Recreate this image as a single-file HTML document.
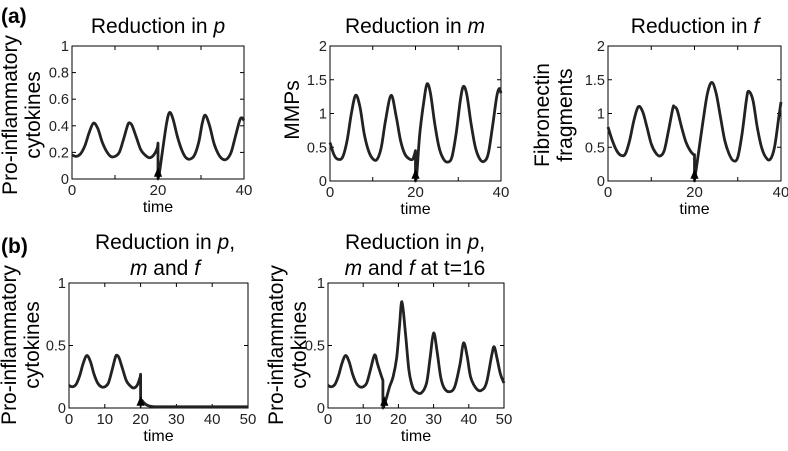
<!DOCTYPE html>
<html><head><meta charset="utf-8"><style>
body{margin:0;background:#fff;width:788px;height:446px;overflow:hidden}
svg{font-family:"Liberation Sans",Arial,sans-serif}
</style></head><body>
<svg id="fig" width="788" height="446" viewBox="0 0 788 446">
<text x="1" y="23" font-size="21" font-weight="bold">(a)</text>
<text x="1" y="253" font-size="21" font-weight="bold">(b)</text>
</svg>
<script>
// Panel a1: Reduction in p
const a1Seg1T=[0,1,2,3,4,5,6,7,8,9,10,11,12,13,13.5,14,15,16,17,18,19,19.8,20];
const a1Seg1V=[0.18,0.17,0.19,0.25,0.35,0.42,0.38,0.28,0.21,0.17,0.17,0.2,0.3,0.41,0.42,0.4,0.31,0.22,0.18,0.16,0.18,0.23,0.27];
const a1Seg2T=[20,20.3,21,22,22.7,23.5,24.5,25.5,26.5,27.5,28.5,29.5,30.3,31,32,33,34,35,36,37,38,39,39.5,40];
const a1Seg2V=[0.0,0.04,0.2,0.42,0.5,0.45,0.32,0.22,0.16,0.15,0.18,0.28,0.42,0.48,0.4,0.27,0.19,0.15,0.15,0.2,0.32,0.44,0.46,0.44];
// Panel a2: Reduction in m
const a2Seg1T=[0,1,2,3,4,5,6,7,8,9,10,11,12,13,14.3,15.5,16.5,17.5,18.5,19.3,19.8,20];
const a2Seg1V=[0.57,0.38,0.32,0.36,0.6,1.0,1.27,1.1,0.7,0.45,0.33,0.32,0.5,0.9,1.27,0.95,0.6,0.4,0.33,0.32,0.4,0.45];
const a2Seg2T=[20,20.3,21,22,22.7,23.5,24.5,25.5,26.5,27.5,28.5,29.5,30.5,31.2,32,33,34,35,36,37,38,39,39.6,40];
const a2Seg2V=[0.0,0.1,0.7,1.2,1.44,1.3,0.85,0.5,0.33,0.28,0.35,0.7,1.2,1.4,1.28,0.85,0.5,0.33,0.29,0.4,0.8,1.25,1.37,1.3];
// Panel a3: Reduction in f
const a3Seg1T=[0,1,2,3,4,5,6,7,8,9,10,11,12,13,14,15,15.3,16,17,18,19,19.8,20];
const a3Seg1V=[0.8,0.6,0.45,0.38,0.4,0.6,0.9,1.1,1.03,0.8,0.55,0.42,0.37,0.45,0.75,1.08,1.1,1.05,0.8,0.58,0.45,0.39,0.39];
const a3Seg2T=[20,21,22,23,24,25,26,27,28,29,30,31,32,32.5,33.5,34.5,35.5,36.5,37.5,38.5,39.5,40];
const a3Seg2V=[0.0,0.45,0.9,1.3,1.46,1.3,0.95,0.6,0.4,0.3,0.35,0.7,1.2,1.33,1.2,0.8,0.5,0.35,0.32,0.5,0.95,1.17];
// Panel b1: Reduction in p, m and f
const b1Seg1T=[0,1,2,3,4,5,6,7,8,9,10,11,12,13,13.5,14,15,16,17,18,19,19.8,20];
const b1Seg1V=[0.18,0.17,0.19,0.26,0.36,0.42,0.37,0.27,0.2,0.17,0.17,0.2,0.3,0.41,0.42,0.4,0.31,0.22,0.18,0.16,0.18,0.24,0.27];
const b1Seg2T=[20,20.4,21,22,24,30,40,50];
const b1Seg2V=[0.07,0.06,0.04,0.02,0.01,0.01,0.01,0.01];
// Panel b2: Reduction in p, m and f at t=16
const b2Seg1T=[0,1,2,3,4,5,6,7,8,9,10,11,12,13,13.5,14,15,15.6];
const b2Seg1V=[0.18,0.17,0.19,0.26,0.36,0.42,0.37,0.27,0.2,0.17,0.17,0.2,0.3,0.41,0.42,0.36,0.27,0.22];
const b2Seg2T=[15.6,16.5,17.5,18.5,19.5,20.3,21,22,23,24,25,26.5,28,29,30,31,32,33,34.5,36,37.5,38.5,39.5,40.5,42,43.5,45,46.5,47.2,48,49,50];
const b2Seg2V=[0.0,0.07,0.17,0.25,0.4,0.65,0.85,0.6,0.3,0.17,0.13,0.12,0.2,0.4,0.6,0.45,0.25,0.16,0.13,0.17,0.35,0.52,0.42,0.25,0.16,0.14,0.2,0.42,0.49,0.4,0.27,0.2];
const aXTicks=[0,10,20,30,40], aXLabels=["0","","20","","40"];
const bXTicks=[0,10,20,30,40,50], bXLabels=["0","10","20","30","40","50"];
const pYTicks=[0,0.2,0.4,0.6,0.8,1], pYLabels=["0","0.2","0.4","0.6","0.8","1"];
const mYTicks=[0,0.5,1,1.5,2], mYLabels=["0","0.5","1","1.5","2"];
const bYTicks=[0,0.5,1], bYLabels=["0","0.5","1"];

const NS="http://www.w3.org/2000/svg", svg=document.getElementById('fig');
function mk(tag,attrs,parent){const e=document.createElementNS(NS,tag);for(const k in attrs)e.setAttribute(k,attrs[k]);(parent||svg).appendChild(e);return e;}
function spline(P){let d='';
 for(let i=0;i<P.length-1;i++){const p0=P[Math.max(0,i-1)],p1=P[i],p2=P[i+1],p3=P[Math.min(P.length-1,i+2)];
 d+=` C${p1[0]+(p2[0]-p0[0])/6},${p1[1]+(p2[1]-p0[1])/6} ${p2[0]-(p3[0]-p1[0])/6},${p2[1]-(p3[1]-p1[1])/6} ${p2[0]},${p2[1]}`;}return d;}
function panel(o){
 const g=mk('g',{});
 const sx=t=>o.x0+(t-o.xmin)/(o.xmax-o.xmin)*(o.x1-o.x0);
 const sy=v=>o.y1-(v-o.ymin)/(o.ymax-o.ymin)*(o.y1-o.y0);
 const box=mk('rect',{x:o.x0,y:o.y0,width:o.x1-o.x0,height:o.y1-o.y0,fill:'none',stroke:'#000','stroke-width':1},g);
 
 o.xt.forEach((t,i)=>{const x=sx(t);
  mk('line',{x1:x,x2:x,y1:o.y1,y2:o.y1-4,stroke:'#000'},g);mk('line',{x1:x,x2:x,y1:o.y0,y2:o.y0+4,stroke:'#000'},g);
  if(o.xl[i]){const tx=mk('text',{x:x,y:o.y1+16,'font-size':15,'text-anchor':'middle',fill:'#222'},g);tx.textContent=o.xl[i];
  }});
 o.yt.forEach((v,i)=>{const y=sy(v);
  mk('line',{x1:o.x0,x2:o.x0+4,y1:y,y2:y,stroke:'#000'},g);mk('line',{x1:o.x1,x2:o.x1-4,y1:y,y2:y,stroke:'#000'},g);
  const tx=mk('text',{x:o.x0-3,y:y+5,'font-size':14.5,'text-anchor':'end',fill:'#222'},g);tx.textContent=o.yl[i];
  });
 let d='';
 o.segs.forEach((s,k)=>{const P=s[0].map((t,i)=>[sx(t),sy(s[1][i])]);d+=(k===0?'M':' L')+P[0][0]+','+P[0][1]+spline(P);});
 const p=mk('path',{d:d,fill:'none',stroke:'#222','stroke-width':2.8,'stroke-linejoin':'round'},g);
 
 const ax=sx(o.arrowT);
 const ar=mk('path',{d:`M${ax},${o.y1} L${ax},${o.y1-8} M${ax-3},${o.y1-3} L${ax},${o.y1-10} L${ax+3},${o.y1-3} Z`,stroke:'#000','stroke-width':1.5,fill:'#000'},g);
 
 const xl=mk('text',{x:(o.x0+o.x1)/2,y:o.y1+33,'font-size':16,'text-anchor':'middle'},g);xl.textContent='time';
 
 o.titles.forEach((tl,i)=>{const t=mk('text',{x:o.tx,y:o.ty+i*26,'font-size':21,'text-anchor':'middle'},g);t.innerHTML=tl;
  });
 o.ylab.forEach((yl,i)=>{const cy=o.cy||(o.y0+o.y1)/2;const t=mk('text',{x:yl[1],y:cy,'font-size':21,'text-anchor':'middle',transform:`rotate(-90 ${yl[1]} ${cy})`},g);t.textContent=yl[0];
  });
}
panel({name:'panel-a1-reduction-p',x0:72,x1:244,y0:46,y1:179,xmin:0,xmax:40,ymin:0,ymax:1,xt:aXTicks,xl:aXLabels,yt:pYTicks,yl:pYLabels,
 segs:[[a1Seg1T,a1Seg1V],[a1Seg2T,a1Seg2V]],arrowT:20,titles:['Reduction in <tspan font-style="italic">p</tspan>'],tx:158,ty:33,cy:115,ylab:[['Pro-inflammatory',17],['cytokines',40]]});
panel({name:'panel-a2-reduction-m',x0:330,x1:501,y0:46,y1:181,xmin:0,xmax:40,ymin:0,ymax:2,xt:aXTicks,xl:aXLabels,yt:mYTicks,yl:mYLabels,
 segs:[[a2Seg1T,a2Seg1V],[a2Seg2T,a2Seg2V]],arrowT:20,titles:['Reduction in <tspan font-style="italic">m</tspan>'],tx:415,ty:33,cy:110,ylab:[['MMPs',299]]});
panel({name:'panel-a3-reduction-f',x0:608,x1:781,y0:46,y1:181,xmin:0,xmax:40,ymin:0,ymax:2,xt:aXTicks,xl:aXLabels,yt:mYTicks,yl:mYLabels,
 segs:[[a3Seg1T,a3Seg1V],[a3Seg2T,a3Seg2V]],arrowT:20,titles:['Reduction in <tspan font-style="italic">f</tspan>'],tx:695,ty:33,cy:115,ylab:[['Fibronectin',549],['fragments',572]]});
panel({name:'panel-b1-reduction-pmf',x0:69,x1:248,y0:283,y1:408,xmin:0,xmax:50,ymin:0,ymax:1,xt:bXTicks,xl:bXLabels,yt:bYTicks,yl:bYLabels,
 segs:[[b1Seg1T,b1Seg1V],[b1Seg2T,b1Seg2V]],arrowT:20,titles:['Reduction in <tspan font-style="italic">p</tspan>,','<tspan font-style="italic">m</tspan> and <tspan font-style="italic">f</tspan>'],tx:165,ty:249,cy:345,ylab:[['Pro-inflammatory',16],['cytokines',39]]});
panel({name:'panel-b2-reduction-pmf-t16',x0:328,x1:504,y0:283,y1:408,xmin:0,xmax:50,ymin:0,ymax:1,xt:bXTicks,xl:bXLabels,yt:bYTicks,yl:bYLabels,
 segs:[[b2Seg1T,b2Seg1V],[b2Seg2T,b2Seg2V]],arrowT:16,titles:['Reduction in <tspan font-style="italic">p</tspan>,','<tspan font-style="italic">m</tspan> and <tspan font-style="italic">f</tspan> at t=16'],tx:415,ty:249,cy:345,ylab:[['Pro-inflammatory',283],['cytokines',306]]});
</script>
</body></html>
